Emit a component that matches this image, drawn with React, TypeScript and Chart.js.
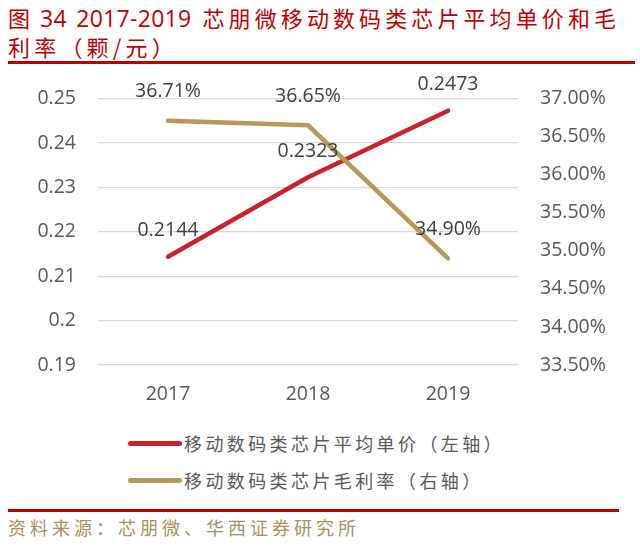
import React, { useEffect, useRef } from "react";
import { Chart, registerables } from "chart.js";

Chart.register(...registerables);

const categories = ["2017", "2018", "2019"];
const priceValues = [0.2144, 0.2323, 0.2473];
const priceLabels = ["0.2144", "0.2323", "0.2473"];
const marginValues = [36.71, 36.65, 34.9];
const marginLabels = ["36.71%", "36.65%", "34.90%"];
const titlePrefix = "图";
const titleNumbers = "34 2017-2019";
const titleRest = "芯朋微移动数码类芯片平均单价和毛";
const titleLine2 = "利率（颗/元）";
const legendNames = ["移动数码类芯片平均单价（左轴）", "移动数码类芯片毛利率（右轴）"];
const sourceText = "资料来源：芯朋微、华西证券研究所";

const RED = "#C8232B";
const GOLD = "#B8975A";
const TICK_COLOR = "#595959";
const LABEL_COLOR = "#404040";
const FONT = "'Open Sans', 'Noto Sans', sans-serif";
const CJK = "'Noto Sans CJK SC', sans-serif";
const TICK_SIZE = 19.5;

const dataLabelPlugin = {
  id: "dataLabels",
  afterDatasetsDraw(chart: any) {
    const ctx = chart.ctx;
    ctx.save();
    ctx.font = `${TICK_SIZE}px ${FONT}`;
    ctx.fillStyle = LABEL_COLOR;
    ctx.textAlign = "center";
    ctx.textBaseline = "middle";
    chart.data.datasets.forEach((ds: any, i: number) => {
      const meta = chart.getDatasetMeta(i);
      meta.data.forEach((pt: any, j: number) => {
        ctx.fillText(ds.valueLabels[j], pt.x, pt.y - ds.labelOffset);
      });
    });
    ctx.restore();
  },
};

export default function App() {
  const ref = useRef<HTMLCanvasElement | null>(null);

  useEffect(() => {
    if (!ref.current) return;
    const chart = new Chart(ref.current, {
      type: "line",
      data: {
        labels: categories,
        datasets: [
          {
            label: legendNames[0],
            data: priceValues,
            yAxisID: "y",
            borderColor: RED,
            backgroundColor: RED,
            borderWidth: 4.5,
            pointRadius: 0,
            tension: 0,
            borderCapStyle: "round",
            borderJoinStyle: "round",
            order: 1,
            valueLabels: priceLabels,
            labelOffset: 26,
          } as any,
          {
            label: legendNames[1],
            data: marginValues,
            yAxisID: "y1",
            borderColor: GOLD,
            backgroundColor: GOLD,
            borderWidth: 4.5,
            pointRadius: 0,
            tension: 0,
            borderCapStyle: "round",
            borderJoinStyle: "miter",
            order: 0,
            valueLabels: marginLabels,
            labelOffset: 29,
          } as any,
        ],
      },
      options: {
        responsive: false,
        animation: false,
        layout: { padding: { top: 28, bottom: 0, left: 0, right: 0 } },
        plugins: { legend: { display: false }, tooltip: { enabled: false } },
        scales: {
          x: {
            offset: true,
            grid: { display: false, drawTicks: false },
            border: { display: false },
            ticks: { color: TICK_COLOR, font: { size: TICK_SIZE, family: FONT }, padding: 18 },
            afterFit: (s: any) => {
              s.height = 45;
            },
          },
          y: {
            position: "left",
            min: 0.19,
            max: 0.25,
            grid: { color: "#D9D9D9", lineWidth: 1.3, drawTicks: false },
            border: { display: false },
            ticks: {
              stepSize: 0.01,
              color: TICK_COLOR,
              font: { size: TICK_SIZE, family: FONT },
              padding: 22,
              callback: (v: any) => String(Number(Number(v).toFixed(2))),
            },
            afterFit: (s: any) => {
              s.width = 98;
            },
          },
          y1: {
            position: "right",
            min: 33.5,
            max: 37,
            grid: { display: false, drawTicks: false },
            border: { display: false },
            ticks: {
              stepSize: 0.5,
              color: TICK_COLOR,
              font: { size: TICK_SIZE, family: FONT },
              padding: 22,
              callback: (v: any) => Number(v).toFixed(2) + "%",
            },
            afterFit: (s: any) => {
              s.width = 122;
            },
          },
        },
      },
      plugins: [dataLabelPlugin],
    });
    return () => chart.destroy();
  }, []);

  const legendColors = [RED, GOLD];

  return (
    <div
      style={{
        position: "absolute",
        left: 0,
        top: 0,
        width: 640,
        height: 547,
        background: "#fff",
        overflow: "hidden",
      }}
    >
      <div
        style={{
          position: "absolute",
          left: 8,
          top: 3,
          color: "#C00000",
          fontFamily: CJK,
          fontSize: 22,
          lineHeight: "28px",
          whiteSpace: "nowrap",
        }}
      >
        <div>
          <span>{titlePrefix}</span>
          <span
            style={{
              fontFamily: FONT,
              fontSize: 23,
              letterSpacing: 0.3,
              marginLeft: 10,
              wordSpacing: 3,
            }}
          >
            {titleNumbers}
          </span>
          <span style={{ letterSpacing: 4.1, marginLeft: 11 }}>{titleRest}</span>
        </div>
        <div style={{ letterSpacing: 4.2 }}>{titleLine2}</div>
      </div>
      <div
        style={{ position: "absolute", left: 8, top: 61, width: 627, height: 3, background: "#C00000" }}
      />
      <canvas
        ref={ref}
        width={640}
        height={345}
        style={{ position: "absolute", left: 0, top: 65, width: 640, height: 345 }}
      />
      {legendNames.map((name, i) => (
        <div key={name} style={{ position: "absolute", left: 128, top: 443 + i * 37 - 14, height: 28 }}>
          <div
            style={{
              position: "absolute",
              left: 0,
              top: 12,
              width: 54,
              height: 5,
              borderRadius: 3,
              background: legendColors[i],
            }}
          />
          <div
            style={{
              position: "absolute",
              left: 56,
              top: 0,
              lineHeight: "28px",
              fontFamily: CJK,
              fontSize: 18,
              letterSpacing: 3.4,
              color: TICK_COLOR,
              whiteSpace: "nowrap",
            }}
          >
            {name}
          </div>
        </div>
      ))}
      <div
        style={{ position: "absolute", left: 8, top: 509, width: 611, height: 3, background: "#C00000" }}
      />
      <div
        style={{
          position: "absolute",
          left: 8,
          top: 514,
          lineHeight: "26px",
          fontFamily: CJK,
          fontSize: 18,
          letterSpacing: 4,
          color: "#B08D5A",
          whiteSpace: "nowrap",
        }}
      >
        {sourceText}
      </div>
    </div>
  );
}
